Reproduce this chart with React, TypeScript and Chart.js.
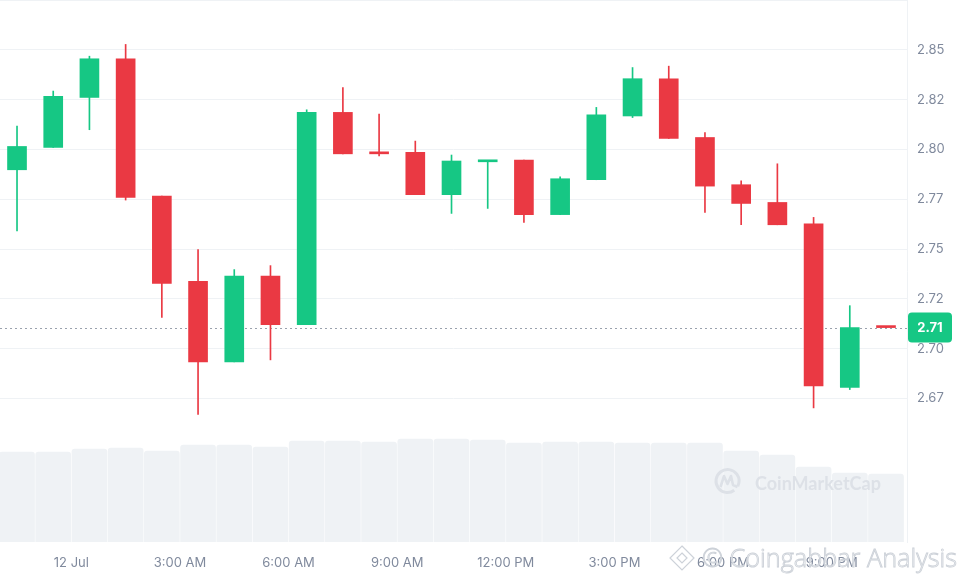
import { useEffect, useRef } from "react";
import { Chart, registerables } from "chart.js";

Chart.register(...registerables);

// Candle open hours relative to 12 Jul 00:00 (hourly candles)
const hours = [-2, -1, 0, 1, 2, 3, 4, 5, 6, 7, 8, 9, 10, 11, 12, 13, 14, 15, 16, 17, 18, 19, 20, 21, 22];

const open = [2.7898, 2.801, 2.8261, 2.8455, 2.7766, 2.7338, 2.6934, 2.7365, 2.7121, 2.8186, 2.7985, 2.7985, 2.7773, 2.7938, 2.7947, 2.7673, 2.7848, 2.8168, 2.8355, 2.806, 2.7823, 2.7734, 2.7627, 2.6806, 2.7108];
const high = [2.8117, 2.8293, 2.8468, 2.8527, 2.7766, 2.7497, 2.7397, 2.7417, 2.8199, 2.8311, 2.8178, 2.8042, 2.7972, 2.7945, 2.7947, 2.7862, 2.8211, 2.8411, 2.8418, 2.8085, 2.7842, 2.7928, 2.7659, 2.7216, 2.7108];
const low = [2.7591, 2.801, 2.8099, 2.7746, 2.7157, 2.667, 2.6934, 2.6944, 2.7121, 2.7978, 2.7967, 2.7773, 2.7679, 2.7704, 2.7634, 2.7673, 2.7848, 2.816, 2.8055, 2.7684, 2.7622, 2.7622, 2.6703, 2.6795, 2.7106];
const close = [2.8015, 2.8266, 2.8455, 2.7759, 2.7328, 2.6934, 2.7365, 2.7121, 2.8186, 2.7978, 2.7978, 2.7773, 2.7942, 2.7945, 2.7673, 2.7853, 2.8174, 2.8355, 2.8055, 2.7816, 2.7729, 2.7622, 2.6813, 2.7106, 2.7106];

// Volume (millions)
const volume = [9.0, 9.0, 9.3, 9.4, 9.1, 9.7, 9.7, 9.5, 10.1, 10.1, 10.0, 10.3, 10.3, 10.2, 9.9, 10.0, 10.0, 9.9, 9.9, 9.9, 9.1, 8.7, 7.5, 6.9, 6.8];

const xTickHours = [0, 3, 6, 9, 12, 15, 18, 21];
const xTickLabels = ["12 Jul", "3:00 AM", "6:00 AM", "9:00 AM", "12:00 PM", "3:00 PM", "6:00 PM", "9:00 PM"];
const yTickValues = [2.675, 2.7, 2.725, 2.75, 2.775, 2.8, 2.825, 2.85, 2.875];
const yTickLabels = ["2.67", "2.70", "2.72", "2.75", "2.77", "2.80", "2.82", "2.85", ""];

const UP = "#16c784";
const DOWN = "#ea3943";
const GRID = "#eff2f5";
const TEXT = "#808a9d";

const candleColor = close.map((c, i) => (c >= open[i] ? UP : DOWN));

const overlayPlugin = {
  id: "overlay",
  beforeDatasetsDraw(chart: any) {
    const { ctx, chartArea, scales } = chart;
    const last = close[close.length - 1];
    const y = Math.round(scales.y.getPixelForValue(last)) + 0.5;
    ctx.save();
    ctx.strokeStyle = "#9aa1ad";
    ctx.lineWidth = 1;
    ctx.setLineDash([2, 3]);
    ctx.beginPath();
    ctx.moveTo(chartArea.left, y);
    ctx.lineTo(chartArea.right, y);
    ctx.stroke();
    ctx.restore();
  },
  afterDatasetsDraw(chart: any) {
    const { ctx } = chart;
    // CoinMarketCap watermark
    ctx.save();
    const cx = 727.5, cy = 481;
    ctx.strokeStyle = "#dde1e7";
    ctx.lineWidth = 3;
    ctx.beginPath();
    ctx.arc(cx, cy, 11.5, Math.PI * 0.3, Math.PI * 2.15);
    ctx.stroke();
    ctx.lineWidth = 2.6;
    ctx.lineJoin = "round";
    ctx.beginPath();
    ctx.moveTo(cx - 7, cy + 6);
    ctx.lineTo(cx - 3.5, cy - 5);
    ctx.lineTo(cx, cy + 3);
    ctx.lineTo(cx + 3.5, cy - 5);
    ctx.lineTo(cx + 5.5, cy + 4);
    ctx.lineTo(cx + 10, cy + 6);
    ctx.stroke();
    ctx.fillStyle = "#dde1e7";
    ctx.font = "bold 18px 'Lato'";
    ctx.textBaseline = "alphabetic";
    ctx.fillText("CoinMarketCap", 755, 489.5, 136);
    ctx.restore();
  },
  afterDraw(chart: any) {
    const { ctx, chartArea, scales } = chart;
    const last = close[close.length - 1];
    const y = scales.y.getPixelForValue(last);
    // price label box
    ctx.save();
    const bx = chartArea.right + 1, bw = 44, bh = 30, by = y - bh / 2;
    ctx.fillStyle = UP;
    ctx.beginPath();
    (ctx as any).roundRect(bx, by, bw, bh, 4);
    ctx.fill();
    ctx.fillStyle = "#ffffff";
    ctx.font = "bold 13px 'Inter'";
    ctx.textAlign = "center";
    ctx.textBaseline = "middle";
    ctx.fillText(last.toFixed(2), bx + bw / 2, y + 0.5);
    ctx.restore();

    // Coingabbar watermark
    ctx.save();
    const dx = 682, dy = 558;
    ctx.strokeStyle = "#cdd2d9";
    ctx.fillStyle = "rgba(255,255,255,0.85)";
    ctx.lineWidth = 1.2;
    ctx.beginPath();
    ctx.moveTo(dx, dy - 12);
    ctx.lineTo(dx + 12, dy);
    ctx.lineTo(dx, dy + 12);
    ctx.lineTo(dx - 12, dy);
    ctx.closePath();
    ctx.fill();
    ctx.stroke();
    ctx.beginPath();
    ctx.moveTo(dx, dy - 5);
    ctx.lineTo(dx + 5, dy);
    ctx.lineTo(dx, dy + 5);
    ctx.lineTo(dx - 5, dy);
    ctx.closePath();
    ctx.stroke();
    ctx.font = "300 26px 'Open Sans'";
    ctx.textBaseline = "alphabetic";
    ctx.textAlign = "left";
    ctx.fillStyle = "rgba(255,255,255,0.7)";
    ctx.fillText("© Coingabbar Analysis", 702, 567, 255);
    ctx.strokeStyle = "#ccd1d8";
    ctx.lineWidth = 0.9;
    ctx.strokeText("© Coingabbar Analysis", 702, 567, 255);
    ctx.restore();
  },
};

export default function App() {
  const ref = useRef<HTMLCanvasElement | null>(null);

  useEffect(() => {
    if (!ref.current) return;
    const centers = hours.map((h) => h + 0.5);
    const chart = new Chart(ref.current, {
      type: "bar",
      data: {
        datasets: [
          {
            label: "Bodies",
            data: centers.map((x, i) => ({ x, y: [Math.min(open[i], close[i]), Math.max(open[i], close[i])] })) as any,
            backgroundColor: candleColor,
            barThickness: 19,
            minBarLength: 2,
            grouped: false,
            borderWidth: 0,
            yAxisID: "y",
            order: 1,
          },
          {
            label: "Wicks",
            data: centers.map((x, i) => ({ x, y: [low[i], high[i]] })) as any,
            backgroundColor: candleColor,
            barThickness: 1,
            minBarLength: 1,
            grouped: false,
            borderWidth: 0,
            yAxisID: "y",
            order: 2,
          },
          {
            label: "Volume",
            data: centers.map((x, i) => ({ x, y: volume[i] })) as any,
            backgroundColor: "#eff2f5",
            barThickness: 35,
            borderRadius: 3,
            grouped: false,
            yAxisID: "yVol",
            order: 3,
          },
        ],
      },
      options: {
        animation: false,
        responsive: false,
        events: [],
        layout: { padding: 0 },
        plugins: { legend: { display: false }, tooltip: { enabled: false } },
        scales: {
          x: {
            type: "linear",
            offset: false,
            min: -1.97,
            max: 23.08,
            grid: { display: false, drawTicks: false },
            border: { display: false },
            afterBuildTicks: (scale: any) => {
              scale.ticks = xTickHours.map((v) => ({ value: v }));
            },
            afterFit: (scale: any) => {
              scale.height = 38;
              scale.paddingLeft = 0;
              scale.paddingRight = 0;
            },
            ticks: {
              autoSkip: false,
              maxRotation: 0,
              padding: 13,
              color: TEXT,
              font: { family: "Inter", size: 13 },
              callback: (v: any) => {
                const i = xTickHours.indexOf(Number(v));
                return i >= 0 ? xTickLabels[i] : "";
              },
            },
          },
          y: {
            type: "linear",
            position: "right",
            min: 2.603,
            max: 2.875,
            grid: { color: GRID, drawTicks: false },
            border: { display: true, color: GRID },
            afterBuildTicks: (scale: any) => {
              scale.ticks = yTickValues.map((v) => ({ value: v }));
            },
            afterFit: (scale: any) => {
              scale.width = 58;
              scale.paddingTop = 0;
              scale.paddingBottom = 0;
            },
            ticks: {
              padding: 10,
              color: TEXT,
              font: { family: "Inter", size: 13 },
              callback: (v: any) => {
                const i = yTickValues.findIndex((t) => Math.abs(t - Number(v)) < 1e-9);
                return i >= 0 ? yTickLabels[i] : "";
              },
            },
          },
          yVol: {
            type: "linear",
            display: false,
            min: 0,
            max: 54.2,
          },
        },
      },
      plugins: [overlayPlugin],
    });
    return () => chart.destroy();
  }, []);

  return (
    <div style={{ position: "absolute", left: 0, top: 0, width: 965, height: 580, background: "#fff" }}>
      <canvas ref={ref} width={965} height={580} style={{ display: "block" }} />
    </div>
  );
}
